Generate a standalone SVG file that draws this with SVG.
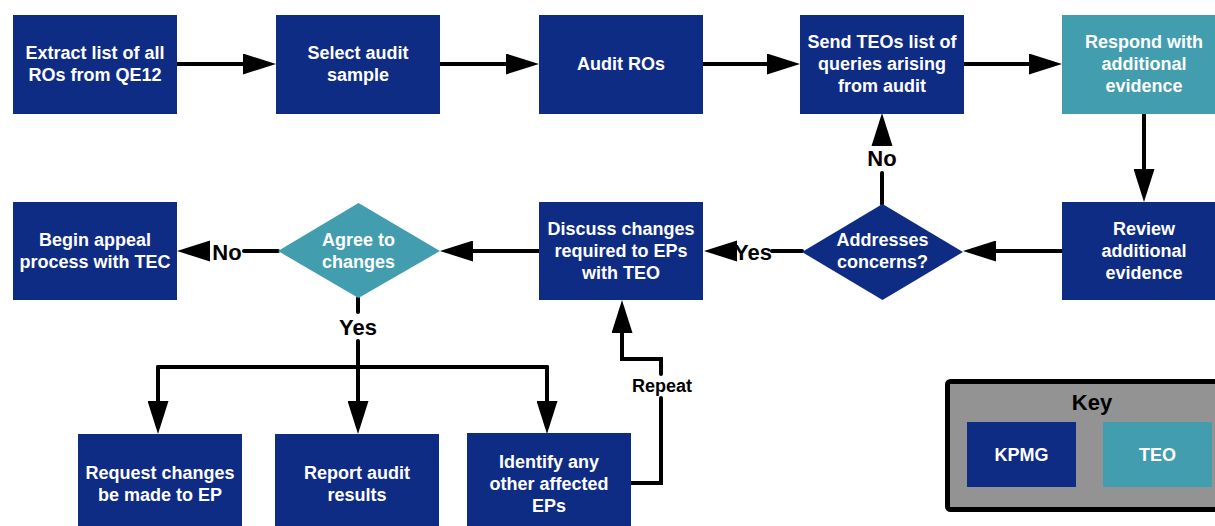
<svg xmlns="http://www.w3.org/2000/svg" width="1215" height="526" viewBox="0 0 1215 526">
<defs>
<style>
.k{fill:#0f2c84}
.e{fill:#429dae}
.t{font-family:"Liberation Sans",Arial,sans-serif;font-weight:bold;font-size:18px;fill:#fff;text-anchor:middle;dominant-baseline:central}
.l{font-family:"Liberation Sans",Arial,sans-serif;font-weight:bold;font-size:22px;fill:#000;text-anchor:middle;dominant-baseline:central}
.c{fill:none;stroke:#000;stroke-width:4;stroke-linecap:round;stroke-linejoin:miter}
.h{fill:#000}
</style>
<marker id="ah" viewBox="0 0 33 21" refX="0" refY="10.5" markerWidth="33" markerHeight="21" markerUnits="userSpaceOnUse" orient="auto">
<path d="M0,0 L33,10.5 L0,21 z" fill="#000"/>
</marker>
</defs>
<rect width="1215" height="526" fill="#fff"/>

<g id="connectors">
<path class="c" d="M177,64 H243" marker-end="url(#ah)"/>
<path class="c" d="M440,64 H506" marker-end="url(#ah)"/>
<path class="c" d="M703,64 H767" marker-end="url(#ah)"/>
<path class="c" d="M964,64 H1029" marker-end="url(#ah)"/>
<path class="c" d="M1144,113 V169" marker-end="url(#ah)"/>
<path class="c" d="M1062,251 H996" marker-end="url(#ah)"/>
<path class="c" d="M882,204 V173"/>
<polygon class="h" points="871.5,146 882,113 892.5,146"/>
<path class="c" d="M802,251 H772"/>
<polygon class="h" points="737,240.5 704,251 737,261.5"/>
<path class="c" d="M539,251 H473" marker-end="url(#ah)"/>
<path class="c" d="M278,251 H244"/>
<polygon class="h" points="210,240.5 177,251 210,261.5"/>
<path class="c" d="M358,298 V312"/>
<path class="c" d="M358,341 V401" marker-end="url(#ah)"/>
<path class="c" d="M158,367 H547"/>
<path class="c" d="M158,367 V401" marker-end="url(#ah)"/>
<path class="c" d="M547,367 V401" marker-end="url(#ah)"/>
<path class="c" d="M630,483 H661 V398"/>
<path class="c" d="M661,374 V359 H622 V333" marker-end="url(#ah)"/>
<text class="l" x="882" y="158">No</text>
<text class="l" x="753" y="252">Yes</text>
<text class="l" x="227" y="252">No</text>
<text class="l" x="358" y="327">Yes</text>
<text class="l" x="662" y="386" style="font-size:18px">Repeat</text>
</g>

<g id="n1"><rect class="k" x="13" y="15" width="164" height="99"/><text class="t" x="95" y="53">Extract list of all</text><text class="t" x="95" y="75">ROs from QE12</text></g>
<g id="n2"><rect class="k" x="276" y="15" width="164" height="99"/><text class="t" x="358" y="53">Select audit</text><text class="t" x="358" y="75">sample</text></g>
<g id="n3"><rect class="k" x="539" y="15" width="164" height="99"/><text class="t" x="621" y="64">Audit ROs</text></g>
<g id="n4"><rect class="k" x="800" y="15" width="164" height="99"/><text class="t" x="882" y="42">Send TEOs list of</text><text class="t" x="882" y="64">queries arising</text><text class="t" x="882" y="86">from audit</text></g>
<g id="n5"><rect class="e" x="1062" y="15" width="164" height="99"/><text class="t" x="1144" y="42">Respond with</text><text class="t" x="1144" y="64">additional</text><text class="t" x="1144" y="86">evidence</text></g>
<g id="n6"><rect class="k" x="1062" y="202" width="164" height="98"/><text class="t" x="1144" y="229">Review</text><text class="t" x="1144" y="251">additional</text><text class="t" x="1144" y="273">evidence</text></g>
<g id="n7"><polygon class="k" points="802,252 882.5,204 963,252 882.5,300"/><text class="t" x="882.5" y="240">Addresses</text><text class="t" x="882.5" y="262">concerns?</text></g>
<g id="n8"><rect class="k" x="539" y="202" width="164" height="98"/><text class="t" x="621" y="229">Discuss changes</text><text class="t" x="621" y="251">required to EPs</text><text class="t" x="621" y="273">with TEO</text></g>
<g id="n9"><polygon class="e" points="278,251 358.5,203 440,251 358.5,298"/><text class="t" x="358.5" y="240">Agree to</text><text class="t" x="358.5" y="262">changes</text></g>
<g id="n10"><rect class="k" x="13" y="202" width="164" height="98"/><text class="t" x="95" y="240">Begin appeal</text><text class="t" x="95" y="262">process with TEC</text></g>
<g id="n11"><rect class="k" x="78" y="434" width="164" height="98"/><text class="t" x="160" y="473">Request changes</text><text class="t" x="160" y="495">be made to EP</text></g>
<g id="n12"><rect class="k" x="275" y="434" width="164" height="98"/><text class="t" x="357" y="473">Report audit</text><text class="t" x="357" y="495">results</text></g>
<g id="n13"><rect class="k" x="467" y="433" width="164" height="98"/><text class="t" x="549" y="462">Identify any</text><text class="t" x="549" y="484">other affected</text><text class="t" x="549" y="506">EPs</text></g>

<g id="key">
<rect x="947.5" y="381.5" width="280" height="128" rx="3" fill="#939394" stroke="#000" stroke-width="5"/>
<text class="l" x="1092" y="402">Key</text>
<rect class="k" x="967" y="422" width="109" height="65"/><text class="t" x="1021.5" y="454.5">KPMG</text>
<rect class="e" x="1103" y="422" width="109" height="65"/><text class="t" x="1157.5" y="454.5">TEO</text>
</g>
</svg>
